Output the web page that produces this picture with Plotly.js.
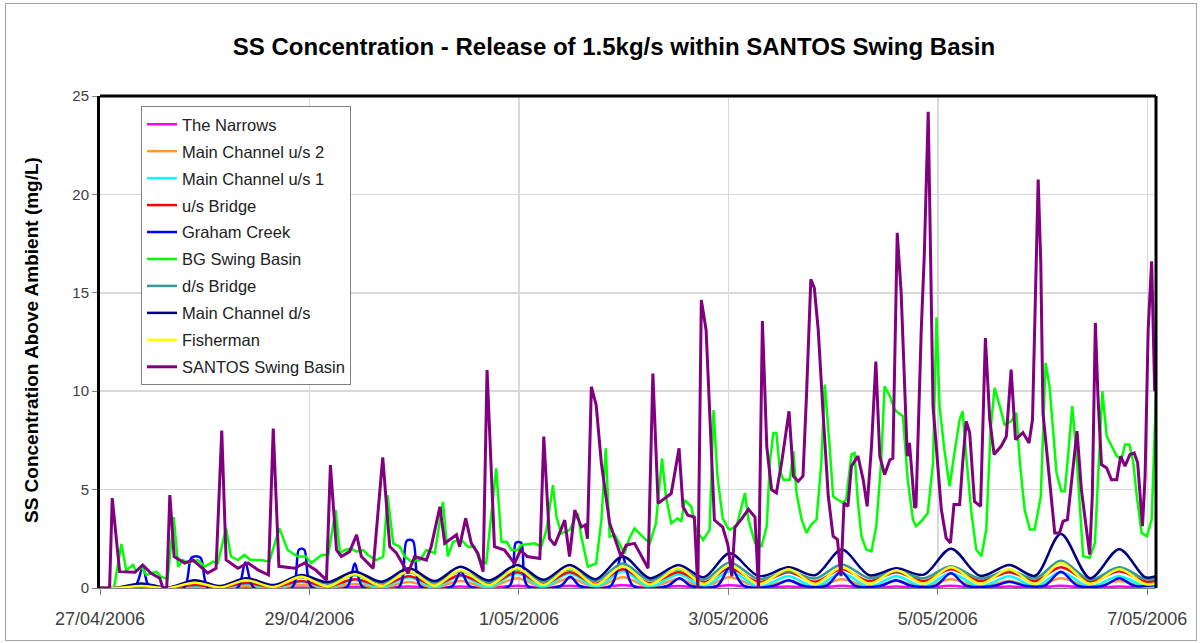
<!DOCTYPE html>
<html>
<head>
<meta charset="utf-8">
<script src="https://cdn.plot.ly/plotly-3.0.1.min.js"></script>
<style>
  html, body { margin: 0; padding: 0; background: #fff; }
  #wrap { position: relative; width: 1201px; height: 643px; overflow: hidden; }
  #chart { width: 1201px; height: 643px; }
  #frame { position: absolute; left: 5px; top: 3px; width: 1190px; height: 636px; border: 1px solid #a6a6a6; pointer-events: none; }
</style>
</head>
<body>
<div id="wrap"><div id="chart"></div><div id="frame"></div></div>
<script>
// ---- Data (hours after 27/04/2006 00:00) ----
const seriesNames = ["The Narrows","Main Channel u/s 2","Main Channel u/s 1","u/s Bridge","Graham Creek","BG Swing Basin","d/s Bridge","Main Channel d/s","Fisherman","SANTOS Swing Basin"];

// tidal keypoint times (troughs / peaks) for the smooth low-level series
const tideHours = [0,3.5,9.5,15.6,21.7,27.6,33.5,39.8,46.1,52.2,58.4,64.5,70.8,76.7,82.6,89.1,95.6,101.6,107.6,113.6,119.8,126,132.6,138.4,144.3,151,157.8,163.9,170,176.3,182.5,188.8,195,201.7,208.4,214.3,220.2,226.9,233.6,239.5,242];

const narrows = [0,0, 0,0, 0.01,0, 0.02,0, 0.03,0, 0.05,0, 0.08,0, 0.08,0, 0.12,0, 0.12,0, 0.14,0, 0.1,0, 0.14,0, 0.08,0, 0.12,0, 0.08,0, 0.12,0, 0.08,0, 0.12,0, 0.08,0, 0];
const mainUS2 = [0,0, 0.02,0, 0.06,0.01, 0.1,0.01, 0.15,0.02, 0.2,0.02, 0.3,0.03, 0.35,0.03, 0.5,0.04, 0.5,0.04, 0.55,0.05, 0.45,0.05, 0.55,0.05, 0.35,0.05, 0.45,0.05, 0.35,0.05, 0.45,0.05, 0.35,0.05, 0.5,0.05, 0.35,0.05, 0.05];
const mainUS1 = [0,0, 0.05,0, 0.12,0, 0.2,0.01, 0.3,0.02, 0.4,0.03, 0.55,0.04, 0.6,0.05, 0.75,0.05, 0.75,0.05, 0.85,0.06, 0.7,0.06, 0.85,0.06, 0.6,0.06, 0.75,0.06, 0.6,0.06, 0.75,0.06, 0.6,0.06, 0.8,0.06, 0.6,0.06, 0.06];
const usBridge = [0,0, 0.05,0, 0.15,0.02, 0.25,0.05, 0.35,0.08, 0.45,0.12, 0.6,0.15, 0.65,0.18, 0.8,0.2, 0.8,0.22, 0.95,0.25, 0.8,0.28, 1.0,0.3, 0.8,0.32, 0.95,0.35, 0.8,0.35, 0.95,0.35, 0.8,0.35, 1.05,0.33, 0.85,0.33, 0.35];
const dsBridge = [0,0, 0.18,0.02, 0.32,0.08, 0.42,0.12, 0.55,0.22, 0.65,0.25, 0.8,0.28, 0.85,0.3, 0.95,0.33, 0.95,0.36, 1.25,0.4, 0.95,0.42, 1.3,0.45, 0.85,0.48, 1.2,0.5, 0.85,0.5, 1.1,0.48, 0.9,0.48, 1.38,0.42, 1.05,0.45, 0.46];
const mainDS = [0,0, 0.23,0.02, 0.4,0.1, 0.5,0.15, 0.66,0.3, 0.83,0.32, 1.0,0.35, 1.08,0.38, 1.17,0.42, 1.17,0.45, 1.6,0.5, 1.17,0.55, 1.76,0.6, 1.05,0.65, 1.95,0.65, 1.0,0.68, 2.0,0.62, 1.17,0.62, 2.75,0.5, 1.97,0.55, 0.6];
const fisherman = [0,0, 0.1,0, 0.27,0.03, 0.4,0.05, 0.57,0.08, 0.7,0.1, 0.85,0.12, 0.9,0.14, 1.0,0.15, 1.0,0.16, 1.1,0.18, 1.0,0.2, 1.15,0.2, 0.95,0.2, 1.05,0.22, 0.9,0.22, 1.05,0.22, 0.95,0.2, 1.27,0.2, 0.95,0.2, 0.2];

const grahamHours = [0,7.8,9.8,11.5,19.2,21,23,24.8,31.5,33.3,35.3,44,45.6,46.8,48.5,56.6,58.4,60.2,68.5,70.3,71.7,73.5,80.6,82.7,84.8,93.8,95.3,96.5,98,105.5,107.8,110,117,119.6,122.2,130,132.8,135.5,141.5,144.4,147.5,154.5,157.8,161,166.5,169.8,173,179,182.4,185.8,191.5,195,198.5,205,208.4,211.8,216.5,220.2,224,230,233.6,237,242];
const graham = [0,0,1.0,0,0,1.55,1.55,0,0,1.3,0,0.02,1.95,1.95,0.05,0.05,1.25,0.05,0.05,2.4,2.4,0.08,0.08,0.83,0.08,0.1,2.3,2.3,0.1,0.1,0.57,0.1,0.1,1.65,0.1,0.1,0.5,0.1,0.12,1.08,0.12,0.12,0.4,0.12,0.12,0.83,0.12,0.12,0.4,0.12,0.12,0.75,0.12,0.12,0.32,0.12,0.12,0.83,0.12,0.12,0.5,0.12,0.15];

const bgHours = [0,3.2,4.9,6,7.6,8.3,9.5,10.6,12.9,14,15.5,16.9,17.9,19,20.2,22.4,24,25.9,27,28.9,30,31.6,33.1,34.5,36.9,38.8,41.1,43,45.3,47.2,48.4,50.8,52.3,54,55,56.1,57.6,58.8,60.3,61.4,63.3,64.9,65.9,67.2,68.7,69.8,71.4,73.3,74.8,76.7,78.6,79.7,80.9,82.8,84.3,85.8,87,88.5,90.8,92,93.2,94.3,95.8,96.5,99.6,101.1,102.3,103.8,104.6,105.7,107.6,109.5,110.3,111.8,113.7,114.9,115.9,116.8,118,120.2,121.3,122.5,124,126,127.4,128.8,129.7,130.9,132.4,133.2,134,135.5,136.6,138.2,139.7,140.6,141.5,142.7,143.9,144.4,145.9,147,147.8,148.6,150.1,151.6,152.8,153.5,154.3,155,155.8,156.6,158.1,158.9,159.6,160.8,161.9,163,164.2,165.3,166.1,167.2,168,169,170.3,171,172.2,172.9,173.7,174.5,175.6,176.8,177.9,179,179.8,181,182.1,182.9,184,185.1,186.3,187,188.2,189.7,190.9,191.7,192.4,193.5,194.7,195.7,197,197.7,198.5,199.7,200.8,202,203.1,204.1,205,206.2,207.3,208.8,210,210.8,211.9,213.1,214.2,215.6,216.7,217.6,218.4,219.2,220.3,221.1,221.9,222.8,223.8,224.5,225.3,226.8,228,228.7,229.7,230.7,231.8,233,234.1,234.9,235.9,236.8,237.6,238.7,239.9,241,242];
const bgSwing = [0,0,2.24,0.9,1.17,0.83,1.08,0.66,0.83,0.57,0.45,3.6,1.08,1.42,1.27,1.42,1.08,1.34,1.27,3.03,1.6,1.42,1.68,1.42,1.42,1.34,3.03,1.93,1.6,1.6,1.27,1.68,1.68,3.96,1.76,1.93,2.0,1.85,1.93,1.68,1.42,1.6,4.72,2.27,2.1,1.6,1.34,1.42,1.93,1.76,4.38,1.6,2.35,2.44,2.1,2.1,1.42,1.25,6.08,2.35,2.35,1.93,1.93,2.18,2.27,2.1,2.95,5.23,3.62,2.77,2.95,3.8,2.6,1.08,1.25,3.45,7.1,2.6,2.69,1.76,2.52,3.03,2.69,2.27,3.29,6.59,4.64,3.29,3.54,3.37,4.47,4.13,2.95,2.44,2.95,9.04,5.66,3.54,3.03,2.97,3.14,4.15,4.83,3.47,2.29,2.12,3.14,6.36,7.88,7.88,6.0,5.5,5.5,6.95,4.83,3.47,2.8,3.22,3.47,6.36,10.34,7.2,4.66,4.5,4.32,4.5,6.78,6.86,4.32,2.63,1.95,1.86,3.14,6.36,10.25,9.75,9.07,8.9,8.73,5.5,3.47,3.14,3.39,3.81,6.36,13.75,9.24,7.03,5.17,6.7,8.56,8.98,6.7,3.81,1.95,1.61,2.97,8.05,10.17,9.24,8.3,8.47,8.9,6.36,3.98,2.97,2.97,4.66,11.44,10.25,8.05,5.85,4.92,4.92,6.86,9.24,6.7,4.32,1.61,1.53,2.29,5.5,10.0,7.71,7.2,6.7,6.53,7.29,7.29,6.36,4.66,2.8,2.63,3.47,9.75];

const santosHours = [0,2.2,2.8,4.5,8,9.8,11.7,13.7,14.4,15.3,16,17,19.4,21.3,24.7,26.6,27.9,28.9,31.6,33.9,36.2,38.6,39.7,41,44.6,46.9,49.5,51.9,52.8,54.2,55.3,57.2,58.8,59.9,62.6,64.8,66.4,67.9,70.6,72.1,74.8,75.9,77.9,79,81.7,82.4,83.8,85.1,86.6,87.8,88.7,90.4,92.7,95,96.4,97.9,100.8,101.7,103,104.2,106.5,107.6,108.8,110.3,111.2,111.7,112.6,113.7,114.9,116.8,119.4,120.6,122.5,125.6,126.7,127.9,130.9,132.7,133.6,134.7,136.2,137,137.8,138.9,140.8,142.7,143.9,144.8,145.5,147,148.6,150.1,150.9,151.8,152.8,153.9,155,156.2,157.9,158.9,160,161.1,161.9,162.9,163.7,164.6,165.7,166.9,168,169,169.8,170.5,171.4,172.2,173.7,174.9,175.8,176.8,177.8,178.7,179.8,181,181.7,182.7,183.6,185,185.5,186.7,187,188.2,188.9,189.8,190.9,192.8,193.9,194.9,195.7,197,197.7,198.5,199.3,200.4,201.8,202.3,202.9,203.9,204.9,206.5,207.7,208.8,209.8,211.5,212.9,213.7,214.4,215,215.6,216.1,217.6,218.8,219.9,220.7,221.7,222.8,223.9,224.9,226.1,226.8,227.4,228.1,228.7,229.5,230.7,231.8,233,233.9,234.9,236,237,237.8,238.9,239.5,240.2,241,241.7];
const santos = [0,0,4.57,0.83,0.8,1.17,0.75,0.5,0,0,4.72,1.6,1.27,1.42,0.76,1.0,8.0,1.42,1.0,1.27,0.92,0.66,8.1,1.1,1.0,1.27,0.9,0.4,6.25,1.93,1.6,1.85,2.7,1.6,1.0,6.64,2.1,1.78,0.75,1.6,1.42,2.1,4.13,2.27,2.7,2.1,3.54,2.27,1.76,0.83,11.08,2.1,1.93,1.25,1.93,1.6,1.5,7.69,2.52,2.18,3.45,1.6,3.96,3.1,3.2,2.5,10.23,9.3,6.34,3.29,1.6,2.18,2.27,1.0,10.9,4.3,4.8,7.1,4.13,3.7,3.6,0,14.63,13.1,3.45,3.1,2.18,0.6,3.1,3.5,4.0,3.6,0,13.56,7.2,5.0,4.83,6.36,8.98,5.68,5.42,5.68,9.75,15.68,15.25,13.1,8.9,4.66,2.63,2.46,0.6,4.32,4.15,6.19,6.7,5.5,4.15,7.2,11.5,6.7,5.76,6.5,6.6,18.05,15.0,6.7,7.37,4.07,4.15,13.1,16.9,24.2,9.24,4.0,2.54,2.29,4.24,4.24,6.36,8.47,7.9,4.4,4.15,8.05,12.7,8.56,6.78,7.2,7.7,11.1,7.54,7.9,7.37,8.56,14.8,20.76,16.5,8.9,5.5,2.8,2.8,3.39,3.47,5.85,7.97,5.0,2.97,1.7,4.66,13.47,9.75,6.27,6.1,5.5,5.5,6.7,6.19,6.78,6.86,6.36,3.14,5.68,13.1,16.6,10.0];

const tickHours = [0,48,96,144,192,240];
const tickLabels = ["27/04/2006","29/04/2006","1/05/2006","3/05/2006","5/05/2006","7/05/2006"];
const seriesColors = ["#FF00FF","#FF9933","#00FFFF","#FF0000","#0000FF","#00FF00","#339999","#000080","#FFFF00","#800080"];

// ---- helpers ----
const base = Date.UTC(2006,3,27,0,0,0);
function toDate(h){ return new Date(base + Math.round(h*3600000)).toISOString().slice(0,19).replace('T',' '); }
function dates(arr){ return arr.map(toDate); }

const seriesData = [
  [tideHours, narrows, 'spline'],
  [tideHours, mainUS2, 'spline'],
  [tideHours, mainUS1, 'spline'],
  [tideHours, usBridge, 'spline'],
  [grahamHours, graham, 'spline'],
  [bgHours, bgSwing, 'linear'],
  [tideHours, dsBridge, 'spline'],
  [tideHours, mainDS, 'spline'],
  [tideHours, fisherman, 'spline'],
  [santosHours, santos, 'linear']
];

const traces = seriesData.map((s,i)=>({
  type:'scatter', mode:'lines', name: seriesNames[i],
  x: dates(s[0]), y: s[1],
  legendgroup: 'g'+i,
  line: {color: seriesColors[i], width: (i===9?3:2.5), shape: s[2], smoothing: 0.9},
  hoverinfo:'skip'
}));

const FONT = 'Arial, "Liberation Sans", sans-serif';
const layout = {
  width: 1201, height: 643,
  margin: {l:100, r:45, t:96, b:55},
  paper_bgcolor:'#fff', plot_bgcolor:'#fff',
  font: {family: FONT, color:'#000'},
  showlegend: true,
  title: {text: 'SS Concentration - Release of 1.5kg/s within SANTOS Swing Basin',
          font:{family:FONT, size:24, color:'#000', weight:'bold'},
          xref:'container', x: 614/1201, xanchor:'center',
          yref:'container', y: 1-47/643, yanchor:'middle'},
  xaxis: {
    type:'date', range:[toDate(0), toDate(242)],
    tickvals: dates(tickHours), ticktext: tickLabels,
    tickfont:{family:FONT, size:18, color:'#404040'},
    ticks:'outside', ticklen:6, tickcolor:'#808080', tickwidth:1,
    ticklabelstandoff: 8,
    showgrid:true, gridcolor:'#d9d9d9', gridwidth:1.5,
    showline:true, linecolor:'#808080', linewidth:1,
    zeroline:false, fixedrange:true
  },
  yaxis: {
    range:[0,25], tickvals:[0,5,10,15,20,25],
    tickfont:{family:FONT, size:15, color:'#404040'},
    ticks:'outside', ticklen:5, tickcolor:'#808080', tickwidth:1,
    showgrid:true, gridcolor:'#d9d9d9', gridwidth:1.5,
    showline:true, linecolor:'#000', linewidth:3,
    zeroline:false, fixedrange:true
  },
  legend: {
    x: (141-100)/1056, y: (588-106)/492, xanchor:'left', yanchor:'top',
    bgcolor:'#fff', bordercolor:'#808080', borderwidth:1,
    font:{family:FONT, size:16.5, color:'#222'},
    traceorder:'grouped', tracegroupgap: 2.5
  },
  shapes: [
    {type:'line', xref:'paper', yref:'paper', x0:0, x1:1, y0:1, y1:1, line:{color:'#000', width:3}, layer:'above'},
    {type:'line', xref:'paper', yref:'paper', x0:1, x1:1, y0:0, y1:1, line:{color:'#000', width:3}, layer:'above'}
  ],
  annotations: [
    {text:'SS Concentration Above Ambient (mg/L)', textangle:-90, showarrow:false,
     xref:'paper', yref:'paper', x:(31-100)/1056, y:(588-340)/492, xanchor:'center', yanchor:'middle',
     font:{family:FONT, size:19, color:'#000', weight:'bold'}}
  ]
};

Plotly.newPlot('chart', traces, layout, {displayModeBar:false, staticPlot:true});
</script>
</body>
</html>
